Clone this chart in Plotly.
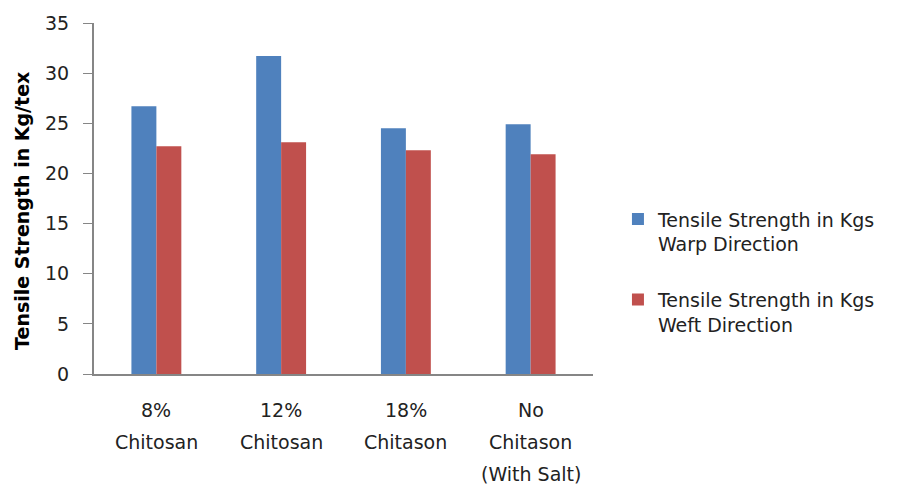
import plotly.graph_objects as go

# Fabric samples and measured tensile strength (Kg/tex)
categories = ["8%<br>Chitosan", "12%<br>Chitosan", "18%<br>Chitason", "No<br>Chitason<br>(With Salt)"]
warp_strength = [26.7, 31.7, 24.5, 24.9]
weft_strength = [22.7, 23.1, 22.3, 21.9]
series_names = ["Tensile Strength in Kgs<br>Warp Direction", "Tensile Strength in Kgs<br>Weft Direction"]
y_ticks = [0, 5, 10, 15, 20, 25, 30, 35]
y_title = "Tensile Strength in Kg/tex"

FONT = "DejaVu Sans, Verdana, sans-serif"
TEXT = "#222222"
AXIS = "#868686"
LINE_PX = 32  # spacing between lines of a category label

fig = go.Figure()
fig.add_trace(go.Bar(x=categories, y=warp_strength, name=series_names[0], legendgroup="warp",
                     marker=dict(color="#4f81bd", line=dict(width=0))))
fig.add_trace(go.Bar(x=categories, y=weft_strength, name=series_names[1], legendgroup="weft",
                     marker=dict(color="#c0504d", line=dict(width=0))))

# Category labels under the axis, one annotation per text line for wider line spacing
annotations = []
for cat in categories:
    for i, line in enumerate(cat.split("<br>")):
        annotations.append(dict(x=cat, xref="x", y=0, yref="paper", text=line,
                                showarrow=False, xanchor="center", yanchor="middle",
                                yshift=-(36 + LINE_PX * i),
                                font=dict(family=FONT, size=19, color=TEXT)))

# Vertical y-axis title, set slightly below the axis centre
annotations.append(dict(x=-0.144, xref="paper", y=0.465, yref="paper",
                        text="<b>" + y_title + "</b>", textangle=-90, showarrow=False,
                        xanchor="center", yanchor="middle",
                        font=dict(family=FONT, size=19, color="black")))

fig.update_layout(
    width=907, height=490,
    margin=dict(l=94, r=314, t=16, b=116),
    paper_bgcolor="white", plot_bgcolor="white",
    barmode="group", bargap=0.6, bargroupgap=0,
    font=dict(family=FONT, size=19, color=TEXT),
    legend=dict(x=1.05, y=0.495, xanchor="left", yanchor="top", valign="top",
                font=dict(family=FONT, size=19, color=TEXT), traceorder="grouped",
                tracegroupgap=28, bgcolor="rgba(0,0,0,0)"),
    showlegend=True,
    annotations=annotations,
)
fig.update_xaxes(showline=True, linecolor=AXIS, linewidth=2, ticks="",
                 showgrid=False, showticklabels=False)
fig.update_yaxes(range=[0, 35], tickvals=y_ticks, showline=True, linecolor=AXIS,
                 linewidth=2, ticks="outside", ticklen=9, tickcolor=AXIS,
                 ticklabelstandoff=10, showgrid=False, zeroline=False,
                 tickfont=dict(family=FONT, size=19, color=TEXT))

fig.write_html("out.html")
